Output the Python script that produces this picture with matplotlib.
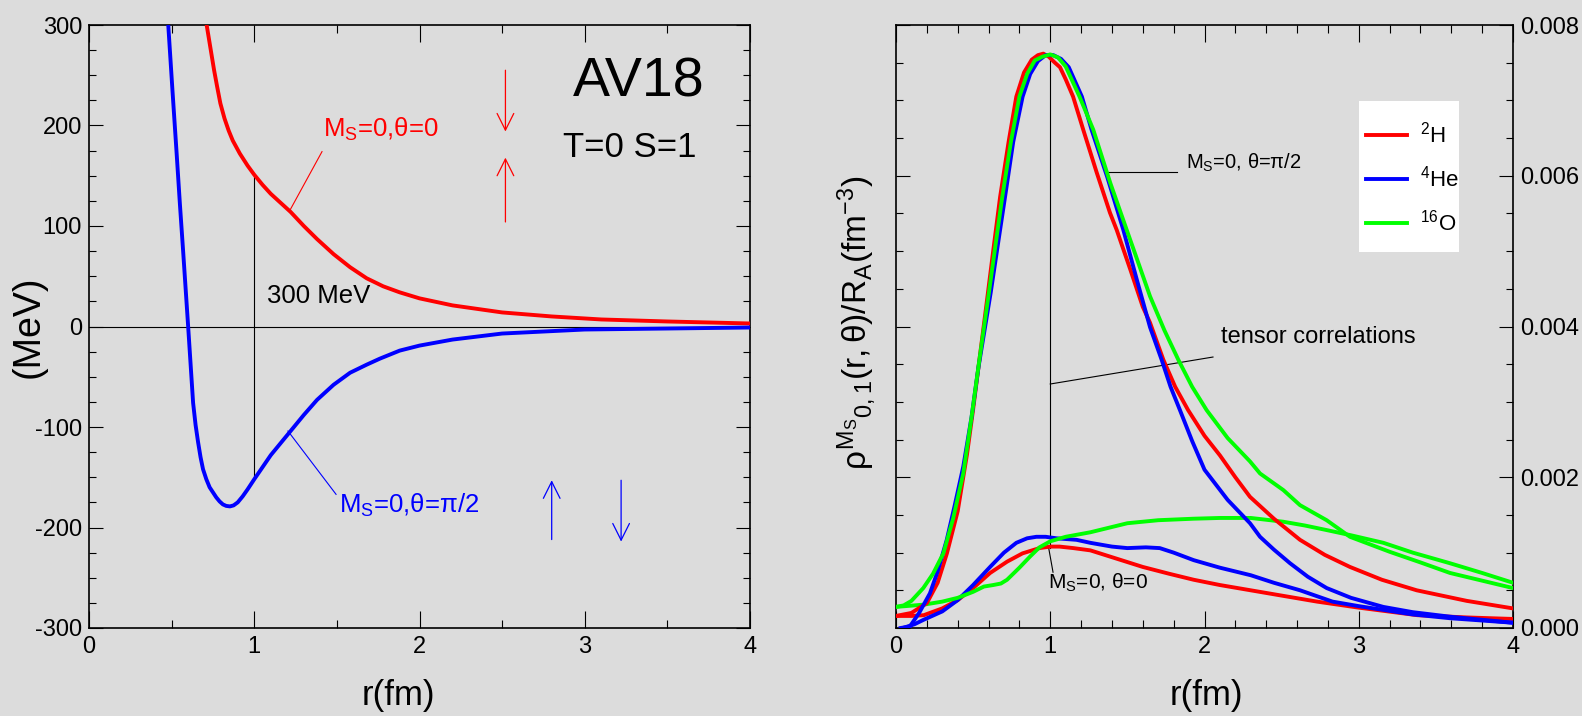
import matplotlib
matplotlib.use('Agg')
import matplotlib.pyplot as plt
from matplotlib.ticker import MultipleLocator, FormatStrFormatter
from matplotlib.patches import Rectangle

plt.rcParams['font.family'] = ['Liberation Sans', 'DejaVu Sans']
plt.rcParams['mathtext.fontset'] = 'custom'
plt.rcParams['mathtext.rm'] = 'Liberation Sans'
plt.rcParams['mathtext.it'] = 'Liberation Sans'
plt.rcParams['mathtext.bf'] = 'Liberation Sans:bold'
plt.rcParams['mathtext.sf'] = 'Liberation Sans'
plt.rcParams['axes.unicode_minus'] = False

BG = '#dcdcdc'

# ---------------- left panel: AV18 potential, T=0 S=1 (MeV) ----------------
r_pot_theta0 = [0.70, 0.712, 0.725, 0.74, 0.757, 0.775, 0.795, 0.82, 0.845, 0.87, 0.913,
                0.96, 1.0, 1.05, 1.1, 1.16, 1.22, 1.3, 1.38, 1.48, 1.58, 1.68, 1.78,
                1.88, 2.0, 2.2, 2.5, 2.8, 3.1, 3.5, 4.0]
V_pot_theta0 = [318, 300, 287, 272, 255, 239, 222, 207, 195, 185, 172,
                160, 151, 141, 132, 123, 114, 100, 87, 72, 59, 48, 40,
                34, 28, 21, 14, 10, 7, 5, 3]

r_pot_theta90 = [0.47, 0.48, 0.505, 0.53, 0.55, 0.57, 0.585, 0.60, 0.615, 0.63, 0.645,
                 0.66, 0.675, 0.69, 0.71, 0.73, 0.75, 0.77, 0.79, 0.81, 0.83, 0.853,
                 0.875, 0.90, 0.93, 0.96, 1.0, 1.05, 1.1, 1.16, 1.22, 1.3, 1.38, 1.48,
                 1.58, 1.68, 1.76, 1.88, 2.0, 2.2, 2.5, 3.0, 3.5, 4.0]
V_pot_theta90 = [330, 299, 235, 173, 122, 74, 37, 0, -38, -76, -98,
                 -115, -130, -142, -152, -160, -165, -170, -174, -177, -178.5, -179,
                 -178, -175, -169, -162, -152, -140, -128, -116, -104, -88, -73, -58,
                 -46, -38, -32, -24, -19, -13, -7, -3, -2, -1]

# ---------------- right panel: two-body densities (units of 1e-3 fm^-3) ----------------
nuclei = [r'$^{2}$H', r'$^{4}$He', r'$^{16}$O']
nucleus_colors = ['#ff0000', '#0000ff', '#00ff00']

# theta = pi/2
r_H2_pi2 = [0, 0.1, 0.2, 0.27, 0.33, 0.4, 0.46, 0.5, 0.534, 0.59, 0.63, 0.675, 0.73,
            0.78, 0.83, 0.88, 0.92, 0.955, 0.99, 1.03, 1.063, 1.1, 1.148, 1.214, 1.3,
            1.387, 1.431, 1.52, 1.6, 1.647, 1.733, 1.81, 1.894, 2.0, 2.1, 2.2, 2.295,
            2.45, 2.619, 2.78, 2.943, 3.15, 3.376, 3.7, 4.0]
rho_H2_pi2 = [0.16, 0.20, 0.33, 0.6, 0.99, 1.55, 2.3, 2.9, 3.45, 4.35, 5.0, 5.72, 6.45,
              7.05, 7.37, 7.54, 7.60, 7.62, 7.58, 7.50, 7.44, 7.28, 7.05, 6.61, 6.05,
              5.51, 5.28, 4.75, 4.26, 4.05, 3.56, 3.2, 2.89, 2.55, 2.29, 2.0, 1.74,
              1.45, 1.17, 0.97, 0.81, 0.64, 0.50, 0.36, 0.26]

r_He4_pi2 = [0.03, 0.09, 0.15, 0.22, 0.27, 0.329, 0.38, 0.436, 0.49, 0.534, 0.614, 0.66,
             0.707, 0.76, 0.821, 0.87, 0.92, 0.97, 1.02, 1.07, 1.12, 1.205, 1.268, 1.37,
             1.474, 1.56, 1.647, 1.722, 1.78, 1.841, 1.92, 2.0, 2.15, 2.295, 2.36,
             2.45, 2.554, 2.67, 2.792, 2.95, 3.159, 3.35, 3.592, 4.0]
rho_He4_pi2 = [0.0, 0.02, 0.2, 0.46, 0.75, 1.17, 1.62, 2.14, 2.8, 3.45, 4.45, 5.08,
               5.72, 6.45, 7.05, 7.35, 7.52, 7.60, 7.60, 7.55, 7.44, 7.05, 6.61, 5.98,
               5.28, 4.63, 3.99, 3.56, 3.2, 2.89, 2.48, 2.10, 1.70, 1.39, 1.21,
               1.04, 0.86, 0.68, 0.53, 0.40, 0.28, 0.21, 0.15, 0.07]

r_O16_pi2 = [0, 0.05, 0.1, 0.177, 0.24, 0.307, 0.37, 0.436, 0.49, 0.54, 0.599, 0.645,
             0.689, 0.745, 0.80, 0.85, 0.90, 0.95, 1.0, 1.05, 1.1, 1.19, 1.279, 1.39,
             1.496, 1.57, 1.647, 1.74, 1.83, 1.92, 2.014, 2.15, 2.295, 2.36, 2.511,
             2.619, 2.792, 2.943, 3.202, 3.4, 3.592, 4.0]
rho_O16_pi2 = [0.28, 0.30, 0.36, 0.53, 0.72, 0.99, 1.45, 2.05, 2.8, 3.55, 4.40, 5.08,
               5.72, 6.45, 7.05, 7.35, 7.53, 7.58, 7.61, 7.57, 7.45, 7.05, 6.61, 5.90,
               5.28, 4.85, 4.40, 3.95, 3.56, 3.2, 2.89, 2.52, 2.21, 2.05, 1.83,
               1.63, 1.43, 1.21, 1.01, 0.87, 0.73, 0.53]

# theta = 0
r_H2_0 = [0, 0.1, 0.18, 0.3, 0.40, 0.5, 0.61, 0.72, 0.82, 0.93, 1.0, 1.06, 1.15, 1.26,
          1.43, 1.60, 1.77, 1.93, 2.1, 2.30, 2.5, 2.73, 3.0, 3.38, 3.7, 4.0]
rho_H2_0 = [0.16, 0.16, 0.17, 0.26, 0.37, 0.53, 0.73, 0.88, 0.99, 1.06, 1.08, 1.08, 1.06,
            1.03, 0.92, 0.81, 0.72, 0.64, 0.57, 0.50, 0.43, 0.35, 0.27, 0.17, 0.14, 0.12]

r_He4_0 = [0.045, 0.12, 0.18, 0.3, 0.40, 0.5, 0.61, 0.7, 0.78, 0.85, 0.91, 0.97, 1.04,
           1.17, 1.26, 1.40, 1.50, 1.62, 1.71, 1.80, 1.93, 2.1, 2.30, 2.45, 2.62, 2.83,
           3.0, 3.16, 3.35, 3.59, 4.0]
rho_He4_0 = [0.0, 0.05, 0.11, 0.22, 0.37, 0.57, 0.81, 1.0, 1.13, 1.19, 1.21, 1.21, 1.19,
             1.17, 1.13, 1.08, 1.06, 1.07, 1.06, 1.00, 0.90, 0.80, 0.70, 0.60, 0.50, 0.35,
             0.29, 0.24, 0.18, 0.13, 0.07]

r_O16_0 = [0, 0.18, 0.3, 0.40, 0.5, 0.57, 0.63, 0.68, 0.72, 0.80, 0.87, 0.93, 1.0, 1.1,
           1.26, 1.38, 1.50, 1.7, 1.93, 2.1, 2.30, 2.51, 2.65, 2.79, 2.95, 3.16, 3.35,
           3.59, 3.8, 4.0]
rho_O16_0 = [0.28, 0.31, 0.35, 0.40, 0.48, 0.55, 0.57, 0.59, 0.64, 0.80, 0.95, 1.07, 1.15,
             1.21, 1.27, 1.33, 1.39, 1.43, 1.45, 1.46, 1.46, 1.41, 1.36, 1.30, 1.23, 1.13,
             1.00, 0.86, 0.73, 0.60]

pi2_series = [(r_H2_pi2, rho_H2_pi2), (r_He4_pi2, rho_He4_pi2), (r_O16_pi2, rho_O16_pi2)]
th0_series = [(r_H2_0, rho_H2_0), (r_He4_0, rho_He4_0), (r_O16_0, rho_O16_0)]

# ---------------- figure ----------------
W, H = 1582, 716
fig = plt.figure(figsize=(W / 100, H / 100), dpi=100, facecolor=BG)

def frac_box(x0, x1, ytop, ybot):
    return [x0 / W, 1 - ybot / H, (x1 - x0) / W, (ybot - ytop) / H]

ax1 = fig.add_axes(frac_box(89, 750, 25, 628))
ax2 = fig.add_axes(frac_box(896, 1513, 25, 628))

for ax in (ax1, ax2):
    ax.set_facecolor(BG)
    for s in ax.spines.values():
        s.set_linewidth(1.2)
    ax.tick_params(which='both', direction='in', top=True, right=True,
                   width=0.8, labelsize=17, colors='black')

CURVE_LW = 2.8
THIN = 0.8

# ---- left panel ----
ax1.plot(r_pot_theta0, V_pot_theta0, color='#ff0000', lw=CURVE_LW, zorder=3)
ax1.plot(r_pot_theta90, V_pot_theta90, color='#0000ff', lw=CURVE_LW, zorder=3)
ax1.set_xlim(0, 4)
ax1.set_ylim(-300, 300)
ax1.xaxis.set_major_locator(MultipleLocator(1))
ax1.xaxis.set_minor_locator(MultipleLocator(0.5))
ax1.yaxis.set_major_locator(MultipleLocator(100))
ax1.yaxis.set_minor_locator(MultipleLocator(25))
ax1.tick_params(axis='x', which='major', length=12, pad=6)
ax1.tick_params(axis='x', which='minor', length=6)
ax1.tick_params(axis='y', which='major', length=10, pad=5)
ax1.tick_params(axis='y', which='minor', length=5)

ax1.axhline(0, color='black', lw=THIN, zorder=2)
ax1.plot([1, 1], [-152, 151], color='black', lw=THIN, zorder=2)
ax1.text(1.08, 30, '300 MeV', fontsize=18.5, va='center', ha='left')

ax1.plot([1.217, 1.41], [116, 174], color='#ff0000', lw=THIN)
ax1.text(1.416, 189, r'M$_\mathrm{S}$=0,θ=0', color='#ff0000', fontsize=18.5,
         va='baseline', ha='left')
ax1.plot([1.204, 1.495], [-104, -167], color='#0000ff', lw=THIN)
ax1.text(1.513, -185, r'M$_\mathrm{S}$=0,θ=π/2', color='#0000ff', fontsize=18.5,
         va='baseline', ha='left')

ax1.text(3.325, 229, 'AV18', fontsize=40, ha='center', va='baseline')
ax1.text(3.27, 169, 'T=0 S=1', fontsize=25, ha='center', va='baseline')

arrow_kw = dict(arrowstyle='->,head_length=0.6,head_width=0.3', lw=0.9,
                shrinkA=0, shrinkB=0, mutation_scale=20)
ax1.annotate('', xy=(2.52, 194), xytext=(2.52, 255), arrowprops=dict(color='#ff0000', **arrow_kw))
ax1.annotate('', xy=(2.52, 168), xytext=(2.52, 104), arrowprops=dict(color='#ff0000', **arrow_kw))
ax1.annotate('', xy=(2.80, -153), xytext=(2.80, -212), arrowprops=dict(color='#0000ff', **arrow_kw))
ax1.annotate('', xy=(3.22, -214), xytext=(3.22, -153), arrowprops=dict(color='#0000ff', **arrow_kw))

# ---- right panel ----
for (r, rho), c in zip(th0_series, nucleus_colors):
    ax2.plot(r, [v * 1e-3 for v in rho], color=c, lw=CURVE_LW, zorder=3)
handles = []
for (r, rho), c, lab in zip(pi2_series, nucleus_colors, nuclei):
    ln, = ax2.plot(r, [v * 1e-3 for v in rho], color=c, lw=CURVE_LW, zorder=3, label=lab)
    handles.append(ln)

ax2.set_xlim(0, 4)
ax2.set_ylim(0, 0.008)
ax2.xaxis.set_major_locator(MultipleLocator(1))
ax2.xaxis.set_minor_locator(MultipleLocator(0.2))
ax2.yaxis.set_major_locator(MultipleLocator(0.002))
ax2.yaxis.set_minor_locator(MultipleLocator(0.0005))
ax2.yaxis.set_major_formatter(FormatStrFormatter('%.3f'))
ax2.tick_params(axis='y', which='both', labelleft=False, labelright=True)
ax2.tick_params(axis='x', which='major', length=12, pad=6)
ax2.tick_params(axis='x', which='minor', length=6)
ax2.tick_params(axis='y', which='major', length=10, pad=5)
ax2.tick_params(axis='y', which='minor', length=5)

ax2.plot([1, 1], [0.00106, 0.00758], color='black', lw=THIN, zorder=2)
ax2.plot([1.374, 1.82], [0.00605, 0.00605], color='black', lw=THIN)
ax2.text(1.88, 0.0061, r'M$_\mathrm{S}$=0, θ=π/2', fontsize=14.5, va='baseline', ha='left')
ax2.plot([1.0, 2.055], [0.003237, 0.003595], color='black', lw=THIN)
ax2.text(2.11, 0.00378, 'tensor correlations', fontsize=17, va='baseline', ha='left')
ax2.plot([0.99, 1.018], [0.00106, 0.00074], color='black', lw=THIN)
ax2.text(0.985, 0.000517, r'M$_\mathrm{S}$=0, θ=0', fontsize=15, va='baseline', ha='left')

# legend: white box + frameless legend
ax2.add_patch(Rectangle((0.7504, 0.6235), 0.1621, 0.2505, transform=ax2.transAxes,
                        facecolor='white', edgecolor='none', zorder=4))
leg = ax2.legend(handles=handles, labels=nuclei, loc='upper left',
                 bbox_to_anchor=(0.7618, 0.8394), borderaxespad=0, borderpad=0,
                 fontsize=16, frameon=False, handlelength=1.85, handletextpad=0.59,
                 labelspacing=0.82)
leg.set_zorder(5)

# axis labels
fig.text(29 / W, 1 - 327 / H, '(MeV)', rotation=90, fontsize=27, ha='center', va='center')
fig.text(398 / W, 1 - 695 / H, 'r(fm)', fontsize=25, ha='center', va='center')
fig.text(1206 / W, 1 - 696 / H, 'r(fm)', fontsize=25, ha='center', va='center')
fig.text(857 / W, 1 - 323 / H,
         r'$\rho^{\mathrm{M_S}}{}_{\mathrm{0,1}}\mathrm{(r,\theta)/R_A(fm^{-3})}$',
         rotation=90, fontsize=24, ha='center', va='center')

fig.savefig('out.png', dpi=100, facecolor=BG)
